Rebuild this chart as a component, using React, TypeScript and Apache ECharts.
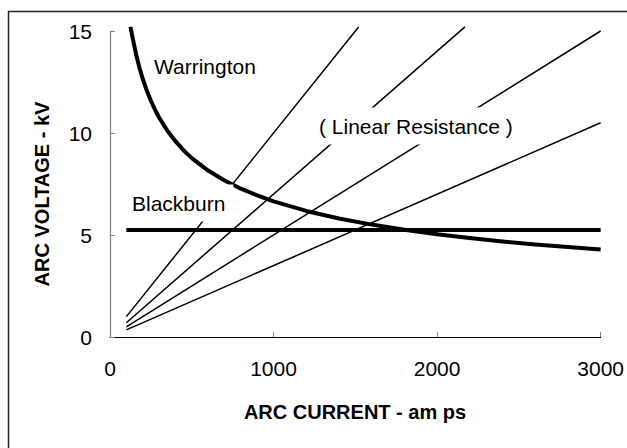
import React, { useEffect, useRef } from "react";
import * as echarts from "echarts";

const xAxisTicks = [0, 1000, 2000, 3000];
const yAxisTicks = [0, 5, 10, 15];

const warringtonCurrent = [125, 140, 160, 180, 200, 225, 250, 275, 300, 350, 400, 450, 500, 600, 700, 800, 900, 1000, 1200, 1400, 1600, 1800, 2000, 2200, 2400, 2600, 2800, 3000];
const warringtonVoltage = [15.2, 14.6, 13.84, 13.2, 12.66, 12.08, 11.58, 11.15, 10.76, 10.12, 9.6, 9.15, 8.77, 8.16, 7.67, 7.27, 6.94, 6.65, 6.18, 5.81, 5.51, 5.26, 5.04, 4.85, 4.68, 4.54, 4.41, 4.29];

const blackburnCurrent = [100, 3000];
const blackburnVoltage = [5.25, 5.25];

const res10Current = [100, 1520];
const res10Voltage = [1.0, 15.2];
const res7Current = [100, 2170];
const res7Voltage = [0.7, 15.2];
const res5Current = [100, 3000];
const res5Voltage = [0.5, 15.0];
const res35Current = [100, 3000];
const res35Voltage = [0.35, 10.5];

const FONT = "'Liberation Sans', Arial, Helvetica, sans-serif";

function pairs(xs: number[], ys: number[]) {
  return xs.map((x, i) => [x, ys[i]]);
}

export default function App() {
  const ref = useRef<HTMLDivElement>(null);
  useEffect(() => {
    if (!ref.current) return;
    const chart = echarts.init(ref.current, null, { renderer: "svg" });
    const thin = (xs: number[], ys: number[]) => ({
      type: "line",
      data: pairs(xs, ys),
      symbol: "none",
      clip: false,
      lineStyle: { color: "#000", width: 1.5 },
      z: 2,
    });
    chart.setOption({
      animation: false,
      backgroundColor: "#fff",
      grid: { left: 110, right: 26, top: 31, bottom: 111 },
      xAxis: {
        type: "value",
        min: xAxisTicks[0],
        max: xAxisTicks[xAxisTicks.length - 1],
        interval: 1000,
        axisLine: { show: true, lineStyle: { color: "#000", width: 1.2 } },
        axisTick: { show: true, inside: true, length: 5, lineStyle: { color: "#808080" } },
        axisLabel: {
          fontSize: 21,
          fontFamily: FONT,
          color: "#000",
          margin: 21,
          formatter: (v: number) => String(v),
        },
        splitLine: { show: false },
      },
      yAxis: {
        type: "value",
        min: yAxisTicks[0],
        max: yAxisTicks[yAxisTicks.length - 1],
        interval: 5,
        axisLine: { show: true, lineStyle: { color: "#808080", width: 1.2 } },
        axisTick: { show: true, inside: true, length: 5, lineStyle: { color: "#808080" } },
        axisLabel: {
          fontSize: 21,
          fontFamily: FONT,
          color: "#000",
          margin: 18,
          formatter: (v: number) => String(v),
        },
        splitLine: { show: false },
      },
      series: [
        thin(res10Current, res10Voltage),
        thin(res7Current, res7Voltage),
        thin(res5Current, res5Voltage),
        thin(res35Current, res35Voltage),
        {
          type: "line",
          data: pairs(blackburnCurrent, blackburnVoltage),
          symbol: "none",
          clip: false,
          lineStyle: { color: "#000", width: 4 },
          z: 3,
        },
        {
          type: "line",
          data: pairs(warringtonCurrent, warringtonVoltage),
          symbol: "none",
          clip: false,
          lineStyle: { color: "#000", width: 4, join: "round" },
          z: 3,
        },
      ],
      graphic: [
        {
          type: "rect",
          z: 100,
          shape: { x: 8.5, y: 11.5, width: 700, height: 500 },
          style: { fill: "none", stroke: "#222", lineWidth: 1.5 },
        },
        {
          type: "text",
          z: 100,
          x: 42,
          y: 194,
          rotation: Math.PI / 2,
          style: {
            text: "ARC VOLTAGE - kV",
            fontSize: 20,
            fontWeight: "bold",
            fontFamily: FONT,
            fill: "#000",
            align: "center",
            verticalAlign: "middle",
          },
        },
        {
          type: "text",
          z: 100,
          x: 355,
          y: 412,
          style: {
            text: "ARC CURRENT - am ps",
            fontSize: 20,
            fontWeight: "bold",
            fontFamily: FONT,
            fill: "#000",
            align: "center",
            verticalAlign: "middle",
          },
        },
        {
          type: "text",
          z: 100,
          x: 154,
          y: 66,
          style: {
            text: "Warrington",
            fontSize: 21,
            fontFamily: FONT,
            fill: "#000",
            align: "left",
            verticalAlign: "middle",
          },
        },
        {
          type: "text",
          z: 100,
          x: 128,
          y: 203,
          style: {
            text: "Blackburn",
            fontSize: 21,
            fontFamily: FONT,
            fill: "#000",
            align: "left",
            verticalAlign: "middle",
            backgroundColor: "#fff",
            padding: [8, 8, 8, 4],
          },
        },
        {
          type: "text",
          z: 100,
          x: 315,
          y: 126,
          style: {
            text: "( Linear Resistance )",
            fontSize: 21,
            fontFamily: FONT,
            fill: "#000",
            align: "left",
            verticalAlign: "middle",
            backgroundColor: "#fff",
            padding: [8, 4, 8, 4],
          },
        },
      ],
    });
    return () => chart.dispose();
  }, []);
  return (
    <div
      ref={ref}
      style={{ position: "fixed", left: 0, top: 0, width: 627, height: 448 }}
    />
  );
}
